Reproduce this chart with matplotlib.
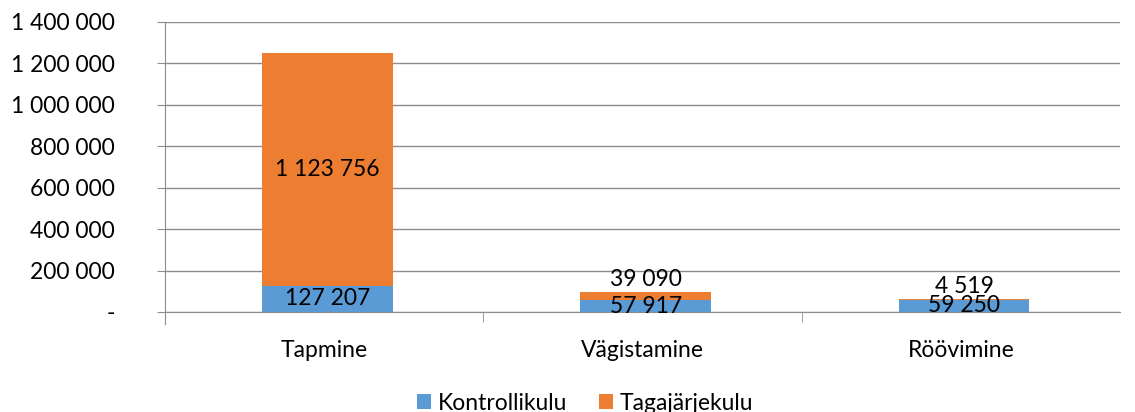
import numpy as np
import matplotlib
matplotlib.use("Agg")
from matplotlib import pyplot as plt

plt.rcParams['font.family'] = ['Lato', 'DejaVu Sans']

categories = ['Tapmine', 'Vägistamine', 'Röövimine']
kontroll = [127207, 57917, 59250]
tagajarg = [1123756, 39090, 4519]
yticks = [0, 200000, 400000, 600000, 800000, 1000000, 1200000, 1400000]

blue = '#5B9BD5'
orange = '#ED7D31'
grid = '#8C8C8C'
fs = 16.5

def fmt(v):
    return '-' if v == 0 else f'{v:,}'.replace(',', ' ')

fig = plt.figure(figsize=(11.35, 4.12), dpi=100)
ax = fig.add_axes([165/1135, 1-312/412, (1120-165)/1135, 290/412])

x = np.arange(len(categories))
w = 0.41
ax.bar(x + 0.01, kontroll, w, color=blue, label='Kontrollikulu', zorder=3)
ax.bar(x + 0.01, tagajarg, w, bottom=kontroll, color=orange, label='Tagajärjekulu', zorder=3)

# labels
for i in range(len(categories)):
    ax.text(x[i] + 0.01, kontroll[i]/2, fmt(kontroll[i]), ha='center', va='center', fontsize=fs, zorder=4)
    if tagajarg[i] > 200000:
        ax.text(x[i] + 0.01, kontroll[i] + tagajarg[i]/2, fmt(tagajarg[i]), ha='center', va='center', fontsize=fs, zorder=4)
    else:
        ax.annotate(fmt(tagajarg[i]), (x[i] + 0.01, kontroll[i] + tagajarg[i]), xytext=(0, 1.5),
                    textcoords='offset points', ha='center', va='bottom', fontsize=fs, zorder=4)

ax.set_xlim(-0.5, 2.5)
ax.set_ylim(0, 1400000)
ax.set_yticks(yticks)
ax.set_yticklabels([fmt(v) for v in yticks], fontsize=fs)
ax.yaxis.grid(True, color=grid, linewidth=1, zorder=0)
ax.tick_params(axis='y', length=6, color=grid, pad=30)
ax.set_xticks(x)
ax.set_xticklabels(categories, fontsize=fs)
ax.set_xticks([0.5, 1.5], minor=True)
ax.tick_params(axis='x', which='major', length=0, pad=20)
ax.tick_params(axis='x', which='minor', length=7, color=grid)
for s in ['top', 'right']:
    ax.spines[s].set_visible(False)
ax.spines['left'].set_color(grid)
ax.spines['bottom'].set_color(grid)
ax.spines['left'].set_bounds(-60000, 1400000)

ax.legend(loc='center', bbox_to_anchor=(0.44, -0.315), ncol=2, frameon=False,
          fontsize=fs, handlelength=0.6, handleheight=0.6, handletextpad=0.3,
          columnspacing=1.4, borderpad=0)

fig.savefig('out.png', dpi=100)
